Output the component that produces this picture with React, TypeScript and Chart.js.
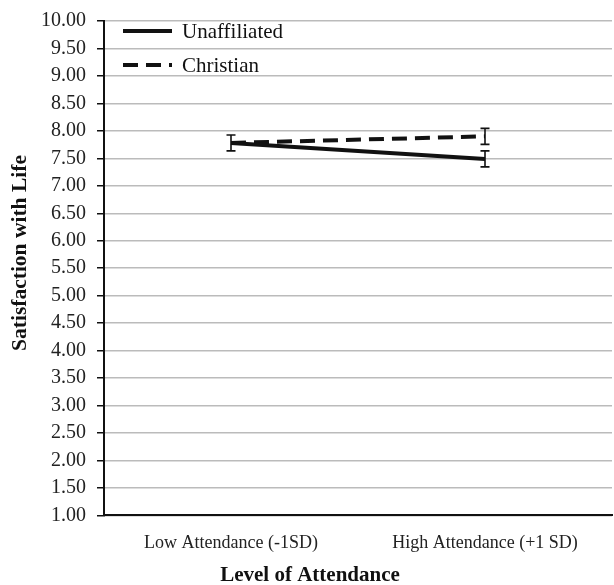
import React, { useEffect, useRef } from "react";
import { Chart, registerables } from "chart.js";

Chart.register(...registerables);

const categories = ["Low Attendance (-1SD)", "High Attendance (+1 SD)"];
const unaffiliated = [7.78, 7.49];
const christian = [7.78, 7.9];
const unaffiliatedErr = [0.145, 0.145];
const christianErr = [0.0, 0.145];
const yTicks = [1, 10, 0.5];
const seriesNames = ["Unaffiliated", "Christian"];
const yTitle = "Satisfaction with Life";
const xTitle = "Level of Attendance";

const FONT = "'Liberation Serif', 'Times New Roman', serif";

const errorBarPlugin = {
  id: "errorBars",
  afterDatasetsDraw(chart: any) {
    const ctx = chart.ctx;
    const x = chart.scales.x;
    const y = chart.scales.y;
    const errs = [unaffiliatedErr, christianErr];
    const vals = [unaffiliated, christian];
    ctx.save();
    ctx.strokeStyle = "#111";
    ctx.lineWidth = 1.6;
    for (let s = 0; s < 2; s++) {
      for (let i = 0; i < categories.length; i++) {
        const e = errs[s][i];
        if (!e) continue;
        const px = x.getPixelForValue(i);
        const top = y.getPixelForValue(vals[s][i] + e);
        const bot = y.getPixelForValue(vals[s][i] - e);
        ctx.beginPath();
        ctx.moveTo(px, top);
        ctx.lineTo(px, bot);
        ctx.moveTo(px - 4.5, top);
        ctx.lineTo(px + 4.5, top);
        ctx.moveTo(px - 4.5, bot);
        ctx.lineTo(px + 4.5, bot);
        ctx.stroke();
      }
    }
    ctx.restore();
  },
};

const legendPlugin = {
  id: "insideLegend",
  afterDraw(chart: any) {
    const ctx = chart.ctx;
    const a = chart.chartArea;
    ctx.save();
    ctx.font = `21px ${FONT}`;
    ctx.fillStyle = "#111";
    ctx.textBaseline = "middle";
    const rows = [
      { y: a.top + 10, dash: [] as number[] },
      { y: a.top + 44, dash: [15, 8] },
    ];
    rows.forEach((r, i) => {
      ctx.strokeStyle = "#111";
      ctx.lineWidth = 4;
      ctx.setLineDash(r.dash);
      ctx.beginPath();
      ctx.moveTo(a.left + 19, r.y);
      ctx.lineTo(a.left + 68, r.y);
      ctx.stroke();
      ctx.setLineDash([]);
      ctx.fillText(seriesNames[i], a.left + 78, r.y + 1);
    });
    // axis titles
    ctx.font = `bold 21px ${FONT}`;
    ctx.textAlign = "center";
    ctx.fillText(xTitle, 310, 576);
    ctx.translate(20, 253);
    ctx.rotate(-Math.PI / 2);
    ctx.font = `bold 21.5px ${FONT}`;
    ctx.fillText(yTitle, 0, 0);
    ctx.restore();
  },
};

export default function App() {
  const ref = useRef<HTMLCanvasElement>(null);
  useEffect(() => {
    document.body.style.margin = "0";
    const chart = new Chart(ref.current!, {
      type: "line",
      data: {
        labels: categories,
        datasets: [
          {
            label: seriesNames[0],
            data: unaffiliated,
            borderColor: "#111",
            borderWidth: 4,
            pointRadius: 0,
            fill: false,
          },
          {
            label: seriesNames[1],
            data: christian,
            borderColor: "#111",
            borderWidth: 4,
            borderDash: [15, 8],
            pointRadius: 0,
            fill: false,
          },
        ],
      },
      plugins: [errorBarPlugin, legendPlugin],
      options: {
        responsive: false,
        animation: false,
        layout: { padding: { top: 0, right: 2, left: 30, bottom: 14 } },
        plugins: { legend: { display: false }, tooltip: { enabled: false } },
        scales: {
          x: {
            offset: true,
            grid: { display: false, drawTicks: false },
            border: { color: "#111", width: 2 },
            ticks: { color: "#222", font: { family: FONT, size: 18 }, padding: 17, autoSkip: false, maxRotation: 0 },
          },
          y: {
            min: yTicks[0],
            max: yTicks[1],
            ticks: {
              stepSize: yTicks[2],
              autoSkip: false,
              color: "#222",
              font: { family: FONT, size: 20, lineHeight: 1 },
              padding: 11,
              callback: (v: any) => Number(v).toFixed(2),
            },
            grid: { color: "#bbb", lineWidth: 1.5, tickColor: "#111", tickLength: 7 },
            border: { color: "#111", width: 2 },
          },
        },
      },
    });
    return () => chart.destroy();
  }, []);
  return <canvas ref={ref} width={614} height={585} style={{ display: "block" }} />;
}
